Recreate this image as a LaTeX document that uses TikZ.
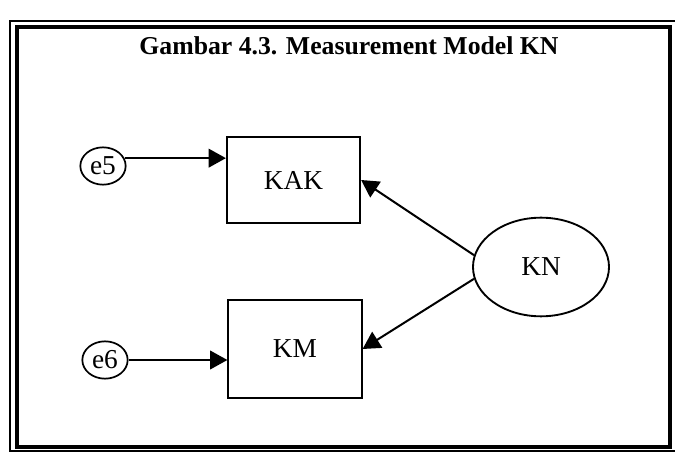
\documentclass[tikz,border=0pt]{standalone}
\usepackage{fontspec}
\setmainfont{Liberation Serif}
\usetikzlibrary{arrows.meta, shapes.geometric}

\begin{document}
\begin{tikzpicture}[
    x=0.75pt, y=-0.75pt,
    labelfont/.style={font=\fontsize{20.5}{24}\selectfont},
    obs/.style={rectangle, draw, line width=1.4pt, minimum width=100pt, inner sep=0pt, labelfont},
    latent/.style={ellipse, draw, line width=1.4pt, minimum width=102pt, minimum height=74pt, inner sep=0pt, labelfont},
    err/.style={ellipse, draw, line width=1.3pt, minimum width=34pt, minimum height=28pt, inner sep=0pt, labelfont},
    line/.style={draw, -{Triangle[length=13pt, width=14pt]}, line width=1.5pt}
]
    \useasboundingbox (0,0) rectangle (675,452);

    % frame
    \draw[line width=1.1pt] (10,21) rectangle (677,451);
    \draw[line width=3pt] (16.5,27) rectangle (670,446.5);

    \node[font=\fontsize{19.3}{23}\selectfont\bfseries] (title) at (349,46) {Gambar 4.3. Measurement Model KN};

    \node[obs, minimum height=64.5pt] (KAK) at (293.5,180) {KAK};
    \node[obs, minimum height=73.5pt] (KM) at (295,349) {KM};
    \node[latent] (KN) at (541,267) {KN};
    \node[err] (e5) at (103,166) {e5};
    \node[err] (e6) at (105,360) {e6};

    \draw [line] (e5.20) -- (e5.20 -| KAK.west);
    \draw [line] (e6.east) -- (e6.east -| KM.west);
    \draw [line] (KN.170) -- (KAK.east);
    \draw [line] (KN.190) -- (KM.east);

\end{tikzpicture}
\end{document}
